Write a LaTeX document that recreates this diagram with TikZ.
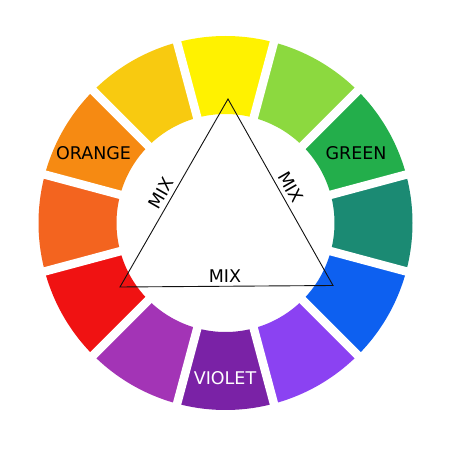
\documentclass[tikz,border=0pt]{standalone}
\usepackage{fontspec}
\setmainfont{DejaVu Sans}
\definecolor{cY}{HTML}{FFF200}
\definecolor{cYO}{HTML}{F8CA10}
\definecolor{cO}{HTML}{F68A12}
\definecolor{cRO}{HTML}{F3641F}
\definecolor{cR}{HTML}{F01212}
\definecolor{cRV}{HTML}{A334B6}
\definecolor{cV}{HTML}{7A22A6}
\definecolor{cBV}{HTML}{8B42F2}
\definecolor{cB}{HTML}{0D60F0}
\definecolor{cT}{HTML}{1B8A73}
\definecolor{cG}{HTML}{23AE4B}
\definecolor{cYG}{HTML}{8CD93F}
\definecolor{ink}{HTML}{111111}
\begin{document}
\begin{tikzpicture}[x=1pt,y=1pt,
  gapline/.style={draw=white,line width=8.5pt},
  tri/.style={draw=ink,line width=0.9pt,line join=miter},
  lbl/.style={font=\fontsize{17.5}{20}\selectfont,inner sep=0pt,text=black}]
\useasboundingbox (0,0) rectangle (450,450);
\fill[white] (0,0) rectangle (450,450);
\coordinate (C) at (225.5,227);
\foreach \a/\c in {90/cY,60/cYG,30/cG,0/cT,-30/cB,-60/cBV,-90/cV,-120/cRV,-150/cR,180/cRO,150/cO,120/cYO}{
  \pgfmathsetmacro{\s}{\a-15}
  \pgfmathsetmacro{\e}{\a+15}
  \fill[\c] ([shift={(\s:109)}]C) arc[start angle=\s,end angle=\e,radius=109]
    -- ([shift={(\e:187)}]C) arc[start angle=\e,end angle=\s,radius=187] -- cycle;
}
\foreach \a in {15,45,...,345}{
  \draw[gapline] (C) -- ++(\a:200);
}
\coordinate (T) at (228,351);
\coordinate (L) at (120,163);
\coordinate (R) at (333,164.5);
\draw[tri] (T) -- (L) -- (R) -- cycle;
\node[lbl] (orange) at (93.5,296.5) {ORANGE};
\node[lbl] (green) at (356,296.5) {GREEN};
\node[lbl,text=white] (violet) at (225,72) {VIOLET};
\node[lbl] (mixb) at (225,174) {MIX};
\node[lbl,rotate=60] (mixl) at (161,257) {MIX};
\node[lbl,rotate=-60] (mixr) at (291,263) {MIX};
\end{tikzpicture}
\end{document}
